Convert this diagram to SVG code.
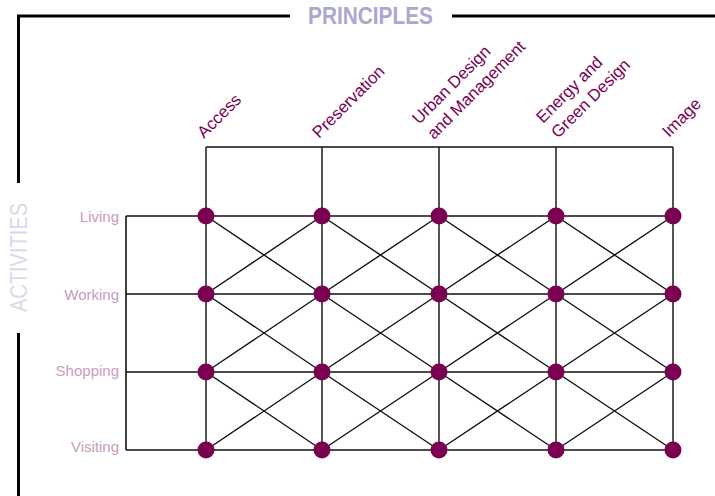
<svg xmlns="http://www.w3.org/2000/svg" width="715" height="496" viewBox="0 0 715 496">
<style>
.frame{stroke:#000;stroke-width:3;fill:none}
.v{stroke:#555;stroke-width:2;fill:none}
.h{stroke:#111;stroke-width:1.6;fill:none}
.d{stroke:#111;stroke-width:1.4;fill:none}
.dot{fill:#7a0052}
.col{font-family:"Liberation Sans",Arial,sans-serif;font-size:16.8px;fill:#7a0052}
.row{font-family:"Liberation Sans",Arial,sans-serif;font-size:15px;fill:#c99bbd;text-anchor:end}
.title{font-family:"Liberation Sans",Arial,sans-serif;font-weight:bold;font-size:23px;fill:#a9a8cf}
.act{font-family:"Liberation Sans",Arial,sans-serif;font-size:24px;fill:#dadaeb}
</style>
<g id="frame">
<path class="frame" d="M18.5 496 V333 M18.5 183 V16 H290 M452 16 H715"/>
<text class="title" x="308" y="24" textLength="125" lengthAdjust="spacingAndGlyphs">PRINCIPLES</text>
<text class="act" transform="translate(27,312) rotate(-90)" textLength="109" lengthAdjust="spacingAndGlyphs">ACTIVITIES</text>
</g>
<g id="connectors">
<path class="v" d="M206 147 V450 M322 147 V450 M439 147 V450 M556 147 V450 M673 147 V450"/>
<path class="h" d="M206 147 H673 M126 216 H673 M126 294 H673 M126 372 H673 M126 450 H673 M126 216 V450"/>
<path class="d" d="M206 216 L322 294 M322 216 L206 294 M322 216 L439 294 M439 216 L322 294 M439 216 L556 294 M556 216 L439 294 M556 216 L673 294 M673 216 L556 294
M206 294 L322 372 M322 294 L206 372 M322 294 L439 372 M439 294 L322 372 M439 294 L556 372 M556 294 L439 372 M556 294 L673 372 M673 294 L556 372
M206 372 L322 450 M322 372 L206 450 M322 372 L439 450 M439 372 L322 450 M439 372 L556 450 M556 372 L439 450 M556 372 L673 450 M673 372 L556 450"/>
</g>
<g id="principles">
<g id="p-access"><text class="col" transform="translate(204,139) rotate(-45)">Access</text></g>
<g id="p-preservation"><text class="col" transform="translate(319,139) rotate(-45)">Preservation</text></g>
<g id="p-urban"><text class="col" transform="translate(419,125) rotate(-45)">Urban Design</text><text class="col" transform="translate(434,140) rotate(-45)">and Management</text></g>
<g id="p-energy"><text class="col" transform="translate(543,124) rotate(-45)">Energy and</text><text class="col" transform="translate(558,139) rotate(-45)">Green Design</text></g>
<g id="p-image"><text class="col" transform="translate(669,138) rotate(-45)">Image</text></g>
</g>
<g id="activities">
<g id="a-living"><text class="row" x="119" y="222">Living</text></g>
<g id="a-working"><text class="row" x="119" y="300">Working</text></g>
<g id="a-shopping"><text class="row" x="119" y="376">Shopping</text></g>
<g id="a-visiting"><text class="row" x="119" y="452">Visiting</text></g>
</g>
<g id="nodes">
<circle class="dot" cx="206" cy="216" r="8.5"/><circle class="dot" cx="322" cy="216" r="8.5"/><circle class="dot" cx="439" cy="216" r="8.5"/><circle class="dot" cx="556" cy="216" r="8.5"/><circle class="dot" cx="673" cy="216" r="8.5"/>
<circle class="dot" cx="206" cy="294" r="8.5"/><circle class="dot" cx="322" cy="294" r="8.5"/><circle class="dot" cx="439" cy="294" r="8.5"/><circle class="dot" cx="556" cy="294" r="8.5"/><circle class="dot" cx="673" cy="294" r="8.5"/>
<circle class="dot" cx="206" cy="372" r="8.5"/><circle class="dot" cx="322" cy="372" r="8.5"/><circle class="dot" cx="439" cy="372" r="8.5"/><circle class="dot" cx="556" cy="372" r="8.5"/><circle class="dot" cx="673" cy="372" r="8.5"/>
<circle class="dot" cx="206" cy="450" r="8.5"/><circle class="dot" cx="322" cy="450" r="8.5"/><circle class="dot" cx="439" cy="450" r="8.5"/><circle class="dot" cx="556" cy="450" r="8.5"/><circle class="dot" cx="673" cy="450" r="8.5"/>
</g>
</svg>
